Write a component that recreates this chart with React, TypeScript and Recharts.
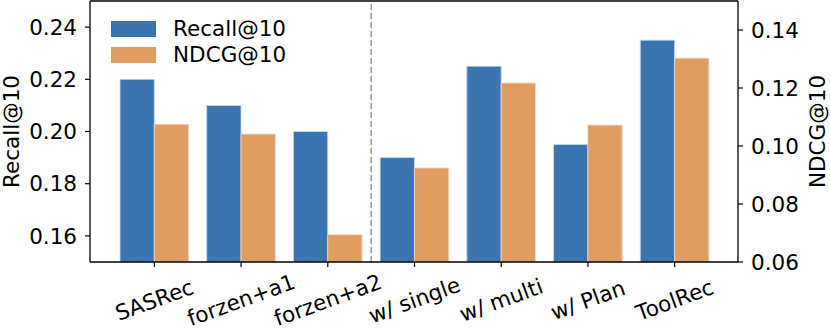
import React from "react";
import {
  BarChart,
  Bar,
  XAxis,
  YAxis,
  ReferenceLine,
} from "recharts";

const categories = ["SASRec", "forzen+a1", "forzen+a2", "w/ single", "w/ multi", "w/ Plan", "ToolRec"];
const recall = [0.22, 0.21, 0.2, 0.19, 0.225, 0.195, 0.235];
const ndcg = [0.1075, 0.1041, 0.0694, 0.0924, 0.1217, 0.1072, 0.1303];
const recallTicks = [0.16, 0.18, 0.2, 0.22, 0.24];
const ndcgTicks = [0.06, 0.08, 0.1, 0.12, 0.14];

const data = categories.map((name, i) => ({ name, recall: recall[i], ndcg: ndcg[i] }));

const FONT = "DejaVu Sans, sans-serif";
const FS = 21.5;
const BLUE = "#3a75af";
const ORANGE = "#e09d62";

function XTick(props: any) {
  const { x, y, payload } = props;
  return (
    <g transform={`translate(${x},${y + 31})`}>
      <text
        transform="rotate(-20)"
        textAnchor="middle"
        dy="0.35em"
        fontFamily={FONT}
        fontSize={FS}
        fill="#000"
      >
        {payload.value}
      </text>
    </g>
  );
}

function LegendBox() {
  const items = [
    { label: "Recall@10", color: BLUE },
    { label: "NDCG@10", color: ORANGE },
  ];
  return (
    <div
      style={{
        position: "absolute",
        left: 111,
        top: 16,
        fontFamily: FONT,
        fontSize: FS,
        lineHeight: "26px",
      }}
    >
      {items.map((it) => (
        <div key={it.label} style={{ display: "flex", alignItems: "center", height: 26 }}>
          <div style={{ width: 45, height: 16, background: it.color, marginRight: 17 }} />
          <span>{it.label}</span>
        </div>
      ))}
    </div>
  );
}

export default function App() {
  return (
    <div style={{ position: "absolute", left: 0, top: 0, width: 830, height: 334, background: "#fff" }}>
      <BarChart
        width={830}
        height={334}
        data={data}
        margin={{ top: 1, right: 0, left: 0, bottom: 0 }}
        barGap={0}
        barSize={34.3}
      >
        <XAxis
          dataKey="name"
          height={72}
          padding={{ left: 21, right: 20 }}
          tickSize={5}
          tickLine={{ stroke: "#000", strokeWidth: 1.2 }}
          axisLine={{ stroke: "#000", strokeWidth: 1.3 }}
          tick={<XTick />}
          interval={0}
        />
        <YAxis
          yAxisId="left"
          orientation="left"
          width={90}
          domain={[0.15, 0.25]}
          ticks={recallTicks}
          allowDataOverflow
          tickSize={5}
          tickMargin={8}
          tickFormatter={(v: number) => v.toFixed(2)}
          tick={{ fontFamily: FONT, fontSize: FS, fill: "#000" }}
          tickLine={{ stroke: "#000", strokeWidth: 1.2 }}
          axisLine={{ stroke: "#000", strokeWidth: 1.3 }}
          label={{
            value: "Recall@10",
            angle: -90,
            position: "insideLeft",
            dx: 6,
            style: { fontFamily: FONT, fontSize: FS, fill: "#000", textAnchor: "middle" },
          }}
        />
        <YAxis
          yAxisId="right"
          orientation="right"
          width={92}
          domain={[0.06, 0.15]}
          ticks={ndcgTicks}
          allowDataOverflow
          tickSize={5}
          tickMargin={8}
          tickFormatter={(v: number) => v.toFixed(2)}
          tick={{ fontFamily: FONT, fontSize: FS, fill: "#000" }}
          tickLine={{ stroke: "#000", strokeWidth: 1.2 }}
          axisLine={{ stroke: "#000", strokeWidth: 1.3 }}
          label={{
            value: "NDCG@10",
            angle: -90,
            position: "insideRight",
            dx: -8,
            style: { fontFamily: FONT, fontSize: FS, fill: "#000", textAnchor: "middle" },
          }}
        />
        <ReferenceLine yAxisId="left" y={0.25} stroke="#000" strokeWidth={1.3} />
        <ReferenceLine
          yAxisId="left"
          x="forzen+a2"
          position="end"
          stroke="#888"
          strokeWidth={1.3}
          strokeDasharray="6 3"
        />
        <Bar
          yAxisId="left"
          dataKey="recall"
          name="Recall@10"
          fill={BLUE}
          stroke="#c9daea"
          strokeWidth={0.8}
          isAnimationActive={false}
        />
        <Bar
          yAxisId="right"
          dataKey="ndcg"
          name="NDCG@10"
          fill={ORANGE}
          stroke="#f3d6bb"
          strokeWidth={0.8}
          isAnimationActive={false}
        />
      </BarChart>
      <LegendBox />
    </div>
  );
}
